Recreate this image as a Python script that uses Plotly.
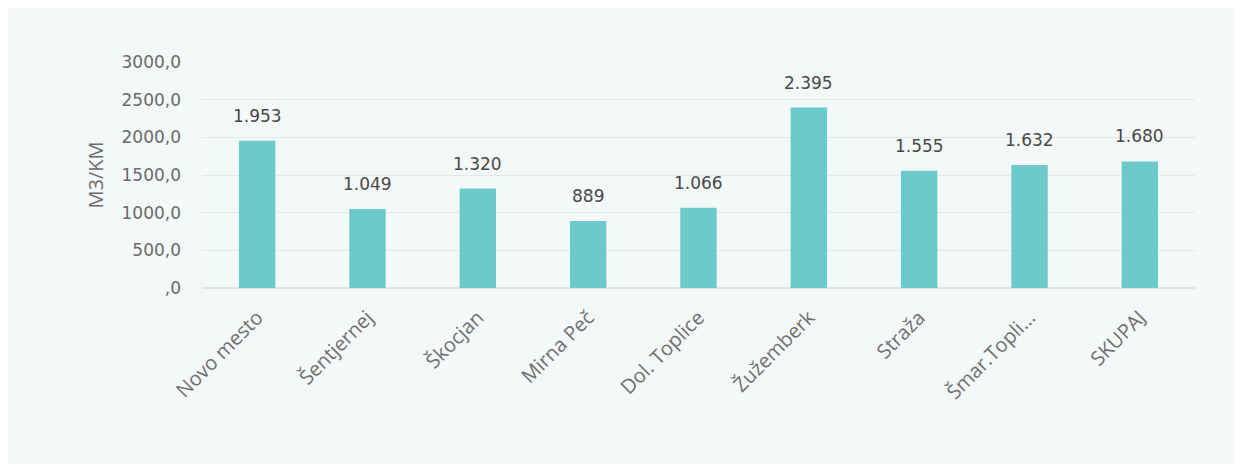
import plotly.graph_objects as go

# Data
OBCINE = ['Novo mesto', 'Šentjernej', 'Škocjan', 'Mirna Peč', 'Dol. Toplice',
          'Žužemberk', 'Straža', 'Šmar.Topli...', 'SKUPAJ']
M3_NA_KM = [1953, 1049, 1320, 889, 1066, 2395, 1555, 1632, 1680]

Y_TICKS = [0, 500, 1000, 1500, 2000, 2500, 3000]
Y_TICK_TEXT = [',0', '500,0', '1000,0', '1500,0', '2000,0', '2500,0', '3000,0']

BAR_TEAL = '#6ccaca'
BG = '#f3f8f8'

fig = go.Figure(go.Bar(
    x=OBCINE,
    y=M3_NA_KM,
    marker=dict(color=BAR_TEAL, line=dict(width=0)),
    width=0.33,
))

# data labels sit a bit higher above the bars than plotly's outside text
for name, val in zip(OBCINE, M3_NA_KM):
    fig.add_annotation(
        x=name, y=val,
        text=f'{val:,}'.replace(',', '.'),
        showarrow=False,
        yanchor='bottom',
        yshift=13,
        font=dict(family='DejaVu Sans', size=17, color='#484848'),
    )

fig.update_layout(
    width=1242, height=464,
    margin=dict(l=194, r=55, t=54, b=184),
    paper_bgcolor=BG,
    plot_bgcolor=BG,
    showlegend=False,
    font=dict(family='Open Sans', color='#666666'),
)

fig.update_xaxes(
    range=[-0.5, 8.5],
    tickangle=-45,
    tickfont=dict(family='Open Sans', size=20, color='#707070'),
    ticklabelstandoff=13,
    showgrid=False,
    showline=False,
    ticks='',
)

fig.update_yaxes(
    range=[0, 3000],
    tickvals=Y_TICKS,
    ticktext=Y_TICK_TEXT,
    tickfont=dict(family='DejaVu Sans', size=17, color='#6a6a6a'),
    ticklabelstandoff=20,
    gridcolor='#e2e8e8',
    zeroline=True,
    zerolinecolor='#dfe5e5',
    title=dict(text='M3/KM', font=dict(family='Open Sans', size=20, color='#6a6a6a'), standoff=12),
)

fig.write_html('out.html')
